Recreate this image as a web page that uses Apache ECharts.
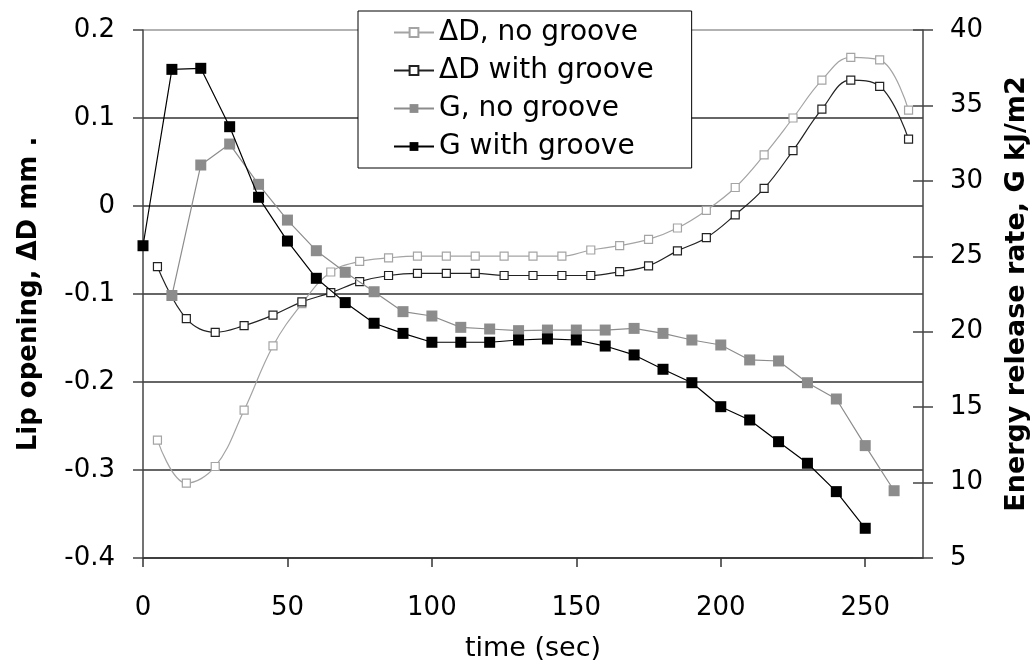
<!DOCTYPE html>
<html>
<head>
<meta charset="utf-8">
<script src="https://cdn.jsdelivr.net/npm/echarts@6/dist/echarts.min.js"></script>
<style>
html,body{margin:0;padding:0;background:#fff;}
#chart{width:1035px;height:662px;}
</style>
</head>
<body>
<div id="chart"></div>
<script>
// time values (sec)
const timeD = [5,15,25,35,45,55,65,75,85,95,105,115,125,135,145,155,165,175,185,195,205,215,225,235,245,255,265];
const timeGNo = [10,20,30,40,50,60,70,80,90,100,110,120,130,140,150,160,170,180,190,200,210,220,230,240,250,260];
const timeGWith = [0,10,20,30,40,50,60,70,80,90,100,110,120,130,140,150,160,170,180,190,200,210,220,230,240,250];

// Lip opening ΔD (mm)
const dNoGroove = [-0.266,-0.315,-0.296,-0.232,-0.159,-0.111,-0.075,-0.063,-0.059,-0.057,-0.057,-0.057,-0.057,-0.057,-0.057,-0.050,-0.045,-0.038,-0.025,-0.005,0.021,0.058,0.100,0.143,0.169,0.166,0.109];
const dWithGroove = [-0.069,-0.128,-0.1435,-0.136,-0.124,-0.109,-0.0985,-0.086,-0.079,-0.0765,-0.0765,-0.0765,-0.079,-0.079,-0.079,-0.079,-0.0746,-0.068,-0.051,-0.036,-0.010,0.020,0.063,0.110,0.143,0.136,0.076];

// Energy release rate G (kJ/m2)
const gNoGroove = [22.4,31.05,32.44,29.77,27.4,25.37,23.94,22.65,21.33,21.04,20.29,20.18,20.07,20.11,20.11,20.11,20.22,19.89,19.45,19.12,18.13,18.06,16.62,15.54,12.45,9.46];
const gWithGroove = [25.7,37.39,37.46,33.59,28.91,26.01,23.54,21.93,20.56,19.89,19.3,19.3,19.3,19.45,19.52,19.45,19.05,18.46,17.51,16.62,15.03,14.15,12.71,11.28,9.4,6.97];

const seriesNames = ['\u0394D, no groove','\u0394D with groove','G, no groove','G with groove'];
const xTickValues = [0,50,100,150,200,250];

const FONT = 'DejaVu Sans';
const pair = (xs, ys) => xs.map((x, i) => [x, ys[i]]);

const chart = echarts.init(document.getElementById('chart'), null, {renderer: 'canvas'});
chart.setOption({
  animation: false,
  backgroundColor: '#fff',
  textStyle: {fontFamily: FONT},
  grid: {left: 143, right: 112, top: 30, bottom: 104, containLabel: false, outerBoundsMode: 'none'},
  legend: {
    orient: 'vertical',
    left: 358, top: 11,
    data: seriesNames,
    backgroundColor: '#fff',
    borderColor: '#000', borderWidth: 1,
    padding: [6, 38, 6, 35],
    itemWidth: 40, itemHeight: 11, itemGap: 7,
    textStyle: {fontFamily: FONT, fontSize: 28, color: '#000', lineHeight: 31}
  },
  xAxis: {
    type: 'value', min: 0, max: 270, interval: 50,
    name: 'time (sec)', nameLocation: 'middle', nameGap: 77,
    nameTextStyle: {fontFamily: FONT, fontSize: 27, color: '#000'},
    axisLine: {show: true, onZero: false, lineStyle: {color: '#333', width: 1.5}},
    axisTick: {show: true, inside: false, length: 9, customValues: xTickValues, lineStyle: {color: '#333', width: 1.5}},
    axisLabel: {fontFamily: FONT, fontSize: 26, color: '#000', margin: 37, customValues: xTickValues},
    splitLine: {show: false}
  },
  yAxis: [
    {
      type: 'value', position: 'left', min: -0.4, max: 0.2, interval: 0.1,
      name: 'Lip opening, \u0394D mm .', nameLocation: 'middle', nameRotate: 90, nameGap: 101,
      nameTextStyle: {fontFamily: FONT, fontSize: 26, fontWeight: 'bold', color: '#000'},
      axisLine: {show: true, onZero: false, lineStyle: {color: '#444', width: 1.5}},
      axisTick: {show: true, inside: false, length: 10, lineStyle: {color: '#444', width: 1.5}},
      axisLabel: {fontFamily: FONT, fontSize: 26, color: '#000', margin: 28},
      splitLine: {show: true, lineStyle: {color: ['#333','#333','#333','#333','#333','#333','#999'], width: 1.5}}
    },
    {
      type: 'value', position: 'right', offset: 0, min: 5, max: 40, interval: 5,
      name: 'Energy release rate, G kJ/m2', nameLocation: 'middle', nameRotate: 90, nameGap: 80,
      nameTextStyle: {fontFamily: FONT, fontSize: 27, fontWeight: 'bold', color: '#000'},
      axisLine: {show: true, onZero: false, lineStyle: {color: '#444', width: 1.5}},
      axisTick: {show: true, inside: false, length: 10, lineStyle: {color: '#444', width: 1.5}},
      axisLabel: {fontFamily: FONT, fontSize: 26, color: '#000', margin: 27},
      splitLine: {show: false}
    },
    {
      type: 'value', position: 'right', offset: 0, min: 5, max: 40, interval: 5,
      axisLine: {show: false, onZero: false},
      axisTick: {show: true, inside: true, length: 10, lineStyle: {color: '#444', width: 1.5}},
      axisLabel: {show: false},
      splitLine: {show: false}
    }
  ],
  series: [
    {
      name: seriesNames[0], type: 'line', yAxisIndex: 0, smooth: 0.4,
      data: pair(timeD, dNoGroove),
      symbol: 'rect', symbolSize: 8,
      lineStyle: {color: '#a4a4a4', width: 1.2},
      itemStyle: {color: '#fff', borderColor: '#a4a4a4', borderWidth: 1.2},
      z: 3
    },
    {
      name: seriesNames[1], type: 'line', yAxisIndex: 0, smooth: 0.4,
      data: pair(timeD, dWithGroove),
      symbol: 'rect', symbolSize: 8,
      lineStyle: {color: '#222', width: 1.2},
      itemStyle: {color: '#fff', borderColor: '#222', borderWidth: 1.2},
      z: 3
    },
    {
      name: seriesNames[2], type: 'line', yAxisIndex: 1,
      data: pair(timeGNo, gNoGroove),
      symbol: 'rect', symbolSize: 11,
      lineStyle: {color: '#8c8c8c', width: 1.2},
      itemStyle: {color: '#8c8c8c'},
      z: 4
    },
    {
      name: seriesNames[3], type: 'line', yAxisIndex: 1,
      data: pair(timeGWith, gWithGroove),
      symbol: 'rect', symbolSize: 11,
      lineStyle: {color: '#000', width: 1.2},
      itemStyle: {color: '#000'},
      z: 5
    }
  ]
});
</script>
</body>
</html>
